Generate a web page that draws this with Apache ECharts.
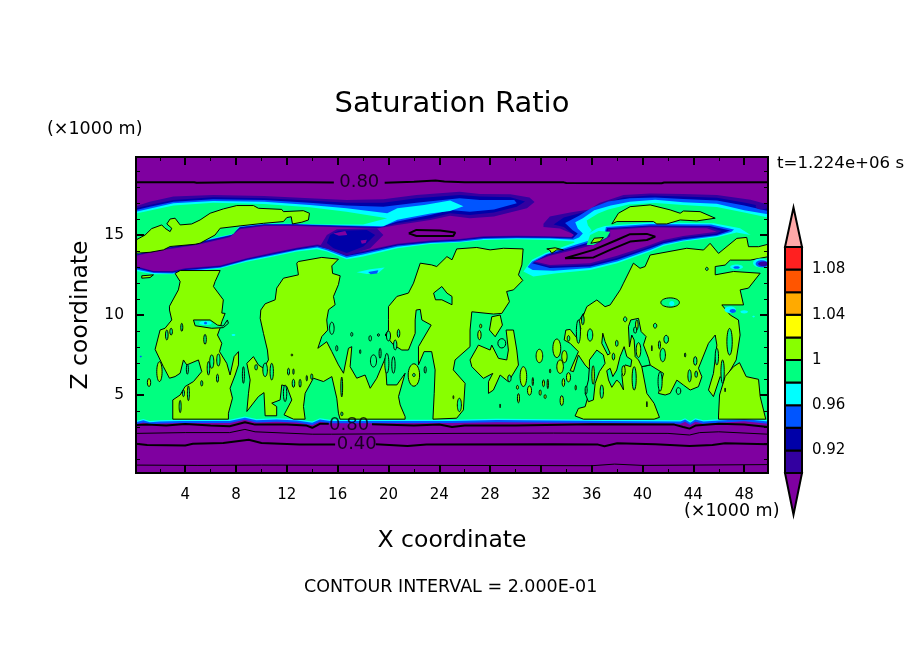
<!DOCTYPE html>
<html><head><meta charset="utf-8"><title>Saturation Ratio</title>
<style>html,body{margin:0;padding:0;background:#fff}#c{width:904px;height:654px}</style>
<script src="https://cdn.jsdelivr.net/npm/echarts@6/dist/echarts.min.js"></script></head>
<body><div id="c"></div>
<script>
// ---- tick values (km) and colour-bar levels
const xMajor=[4,8,12,16,20,24,28,32,36,40,44,48];
const xMinor=[2,6,10,14,18,22,26,30,34,38,42,46];
const zMajor=[5,10,15];
const zMinor=[1,2,3,4,6,7,8,9,11,12,13,14,16,17,18,19];
const barLevels=[0.90,0.92,0.94,0.96,0.98,1.00,1.02,1.04,1.06,1.08,1.10];
const barLabels=[0.92,0.96,1,1.04,1.08];
const shadeColors=['#7f00a0','#3300a0','#0000a8','#0055ff','#00ffff','#00ff80','#88ff00','#ffff00','#ffaa00','#ff5500','#ff2020','#ffa8a8'];
const PURPLE=0,INDIGO=1,NAVY=2,BLUE=3,CYAN=4,SPRING=5,LIME=6;

// ---- filled regions, [x km, z km]
const bodyFoot=[[49.875,3],[0.125,3]];
const bodyIndigo=[[.125,13.05],[1.5,12.75],[3,12.75],[4,12.92],[6.75,13.1],[8.85,13.55],[10.94,13.9],[12.8,14.2],[14.4,14.4],[15.15,14.3],[16.7,13.85],[18,14],[20.7,14.45],[23.3,14.65],[25.6,14.75],[27.5,14.92],[30.1,14.95],[32.7,14.92],[34.4,14.88],[34.7,15],[33.5,15.4],[32.2,15.5],[32.2,15.7],[32.7,16.15],[34.3,16.4],[35.8,16.6],[36.6,17],[38.5,17.5],[40.6,17.6],[43.2,17.56],[45.85,17.5],[48.5,17.2],[49.875,16.9]];
const bodyNavy=[[.125,13],[1.5,12.72],[3,12.7],[4,12.87],[6.75,13.05],[8.85,13.5],[10.94,13.85],[12.8,14.15],[14.4,14.35],[15.15,14.2],[16.7,13.75],[18,13.93],[20.7,14.4],[23.3,14.6],[25.6,14.7],[27.5,14.87],[30.1,14.9],[32.7,14.87],[34.4,14.83],[34.6,15],[33.8,15.5],[33,15.65],[33.8,16.1],[35.5,16.45],[36.7,16.9],[38.5,17.35],[40.6,17.47],[43.2,17.4],[45.85,17.33],[48.2,17],[49.875,16.7]];
const bodyBlue=[[.125,12.93],[1.5,12.67],[3,12.65],[4,12.82],[6.75,13],[8.85,13.45],[10.94,13.8],[12.8,14.1],[14.4,14.3],[15.15,14.15],[16.7,13.68],[18,13.87],[20.7,14.35],[23.3,14.55],[25.6,14.65],[27.5,14.82],[30.1,14.85],[32.7,14.83],[34.5,14.78],[34.9,15.1],[34.5,15.3],[33.9,15.75],[35,16.2],[36,16.7],[37.3,17.1],[39,17.3],[41,17.35],[43.2,17.25],[45.85,17.15],[48,16.85],[49.875,16.5]];
const bodyCyan=[[.125,12.85],[1.5,12.62],[3,12.6],[4,12.75],[6.75,12.95],[8.85,13.4],[10.94,13.73],[12.8,14.05],[14.4,14.22],[15.15,14.05],[16.7,13.58],[18,13.78],[20.7,14.27],[23.3,14.5],[25.6,14.58],[27.5,14.75],[30.1,14.8],[32.7,14.78],[34.56,14.7],[35,14.85],[35.3,15.1],[34.9,15.4],[34.7,15.8],[35.3,16.05],[36.2,16.55],[37.5,16.85],[39,17.08],[41,17.2],[43.2,17.05],[45.85,16.95],[48,16.55],[49.875,16.3]];
const bodySpring=[[.125,12.75],[1.5,12.55],[3,12.55],[4,12.7],[6.75,12.9],[8.85,13.33],[10.94,13.65],[12.8,13.97],[14.36,14.11],[15.15,13.97],[16.7,13.49],[18,13.66],[20.7,14.17],[23.3,14.44],[25.6,14.53],[27.5,14.69],[30.1,14.74],[32.7,14.69],[34.56,14.59],[35.35,14.38],[35.6,14.9],[36,15.3],[35.7,15.6],[35.6,15.9],[36.5,16.35],[37.3,16.6],[38.9,16.9],[41,17],[43.2,16.88],[45.85,16.75],[48,16.4],[49.875,16.1]];
const bulgeIndigo=[[14.6,14.28],[15.15,15],[15.93,15.36],[19.08,15.42],[19.6,15],[18.56,14.17],[16.72,13.7],[15.4,14.1]];
const bulgeNavy=[[15.15,14.5],[15.4,15],[16.06,15.27],[18.3,15.32],[18.95,15],[18.03,14.28],[16.72,13.87],[15.67,14.17]];
const bulgeSpotA=[[15.65,15.1],[16.6,15.25],[16.75,15],[16.1,14.95]];
const bulgeSpotB=[[17.8,14.65],[18.3,14.7],[18.2,14.5],[17.9,14.45]];
const upperIndigo=[[.125,16.8],[1.2,17.08],[3.07,17.4],[6.2,17.5],[10.2,17.44],[13.8,17.3],[16.7,17.19],[19.6,17.23],[22.2,17.5],[25.6,17.7],[27.2,17.56],[29.6,17.54],[31.1,17.35],[31.5,17.07],[30.9,16.67],[28.3,16.15],[26.4,16.05],[24.85,16.2],[23.3,15.94],[20.7,15.63],[19.1,15.4],[15.4,15.5],[12.8,15.57],[10.2,15.57],[8.3,15.36],[7.5,14.86],[4.9,14.38],[2.28,14.07],[.125,13.7]];
const upperNavy=[[.125,16.67],[1.2,16.88],[3.07,17.19],[6.2,17.36],[10.2,17.3],[13.8,17.15],[16.7,17.02],[19.6,17.02],[22.2,17.3],[25.6,17.5],[27.2,17.4],[29.6,17.36],[30.75,17.09],[30.1,16.77],[28.3,16.4],[26.4,16.25],[24.85,16.36],[23.3,16.05],[20.7,15.73],[19.2,15.45],[15.4,15.55],[12.8,15.62],[10.2,15.62],[8.3,15.42],[7.55,14.93],[4.9,14.44],[2.28,14.12],[.125,13.75]];
const upperBlue=[[.125,16.57],[1.2,16.77],[3.07,17.08],[6.2,17.23],[10.2,17.19],[13.8,17.02],[16.7,16.84],[19.6,16.77],[22.2,17.02],[25.6,17.3],[27.2,17.19],[29.9,17.19],[30.1,16.98],[28.3,16.6],[26.4,16.46],[24.85,16.57],[23.3,16.25],[20.7,15.84],[19.4,15.5],[15.4,15.6],[12.8,15.65],[10.2,15.66],[8.3,15.48],[7.6,14.98],[4.9,14.5],[2.28,14.16],[.125,13.78]];
const upperCyan=[[.125,16.46],[3.07,16.98],[6.2,17.13],[10.2,17.08],[13.8,16.88],[16.7,16.67],[19.9,16.36],[20.7,16.67],[22.8,16.88],[24.85,17.15],[25.9,16.8],[24.85,16.5],[23.3,16.35],[20.7,15.95],[19.6,15.55],[15.4,15.63],[12.8,15.68],[10.2,15.68],[8.3,15.52],[7.7,15.03],[4.9,14.54],[2.28,14.19],[.125,13.8]];
const upperSpring=[[.125,16.35],[3.07,16.84],[6.2,17.02],[10.2,16.94],[13.8,16.73],[16.7,16.46],[19.9,16.05],[18,15.65],[15.4,15.66],[12.8,15.7],[10.2,15.72],[8.3,15.6],[7.8,15.08],[4.9,14.59],[2.28,14.22],[.125,13.83]];
const tongueCyan=[[37.05,15.57],[40.6,15.78],[45.6,15.73],[47.68,15.42],[48.5,15],[47.4,15.15],[45.85,14.86],[43.2,14.59],[41.65,14.32],[40.6,13.97],[38,13.24],[35.87,12.82],[33.25,12.61],[31.4,12.4],[30.62,12.72],[31.3,13.45],[32.33,13.86],[34.56,14.5],[35.35,14.9],[36.4,15.4]];
const tongueBlue=[[37.12,15.5],[40.6,15.68],[45.4,15.65],[47.2,15.35],[47,15.2],[45.85,14.93],[43.2,14.66],[41.65,14.4],[40.6,14.07],[38,13.35],[35.87,12.93],[33,12.77],[31.35,12.82],[30.95,13],[31.3,13.35],[32.4,13.8],[34.63,14.38],[36.2,14.75],[37,15.1]];
const tongueNavy=[[37.2,15.42],[40.6,15.6],[45.3,15.57],[46.9,15.28],[45.85,15],[43.2,14.73],[41.65,14.48],[40.6,14.17],[38,13.45],[35.87,13.03],[32.7,12.93],[31.3,13.24],[32.46,13.76],[34.7,14.28],[36.27,14.65],[37.05,15]];
const tongueIndigo=[[37.3,15.38],[40.6,15.54],[45.2,15.5],[46.2,15.25],[45.85,15.1],[43.2,14.84],[41.65,14.58],[40.6,14.27],[38,13.57],[35.87,13.13],[32.7,13.03],[31.4,13.29],[32.58,13.73],[34.76,14.2],[36.33,14.55],[37.25,14.95]];
const tonguePurple=[[37.45,15.32],[40.6,15.48],[45.06,15.42],[45.85,15.2],[43.2,14.94],[41.65,14.69],[40.6,14.38],[38,13.7],[35.87,13.24],[32.7,13.13],[31.5,13.34],[32.7,13.7],[34.82,14.11],[36.4,14.44],[37.45,14.9]];
const pocketSpring=[[35.6,14.38],[35.87,15],[36.53,15.25],[37.45,15.2],[37.2,14.86],[36.14,14.38]];
const pocketCyan=[[17.5,12.67],[18.56,12.86],[19.7,12.97],[19.2,12.62],[18.3,12.57]];
const pocketBlue=[[18.4,12.68],[19.2,12.8],[19.1,12.6],[18.6,12.55]];
const floorCyan=[[.125,3.38],[.7,3.5],[1.2,3.38],[2,3.42],[3.6,3.46],[7.5,3.46],[8.7,3.66],[9.6,3.5],[11.2,3.55],[12.8,3.49],[14,3.34],[14.6,3.55],[15.4,3.45],[25,3.46],[28.5,3.52],[37,3.46],[43,3.42],[43.35,3.55],[43.75,3.34],[44.15,3.55],[44.8,3.42],[48,3.6],[49.875,3.42],[49.875,.125],[.125,.125]];
const floorBlue=[[.125,3.3],[.7,3.42],[1.2,3.3],[2,3.34],[3.6,3.38],[7.5,3.38],[8.7,3.58],[9.6,3.42],[11.2,3.47],[12.8,3.41],[14,3.26],[14.6,3.47],[15.4,3.37],[25,3.38],[28.5,3.44],[37,3.38],[43,3.34],[43.35,3.47],[43.75,3.26],[44.15,3.47],[44.8,3.34],[48,3.5],[49.875,3.34],[49.875,.125],[.125,.125]];
const floorPurple=[[.125,3.17],[.7,3.28],[1.2,3.17],[2,3.22],[3.6,3.25],[7.5,3.25],[8.7,3.45],[9.6,3.28],[11.2,3.33],[12.8,3.28],[14,3.12],[14.6,3.33],[15.4,3.24],[25,3.25],[28.5,3.3],[37,3.25],[43,3.2],[43.35,3.33],[43.75,3.12],[44.15,3.33],[44.8,3.2],[48,3.36],[49.875,3.2],[49.875,.125],[.125,.125]];

// ---- ratio-1.0 outlined regions
const limeUpperLeft=[[.125,14.69],[.84,15],[1.36,15.4],[2.15,15.63],[2.41,15.42],[2.81,15.21],[2.94,15.42],[2.55,15.69],[2.81,16],[3.2,16.05],[3.6,15.63],[4.51,15.69],[5.17,15.94],[5.96,16.36],[7,16.63],[8.06,16.84],[9.37,16.84],[9.76,16.67],[11.6,16.6],[11.73,16.46],[13.3,16.52],[13.78,16.36],[13.7,15.94],[13.18,15.8],[12.44,15.69],[12.34,16.14],[12,16.09],[11.73,15.84],[10.16,15.73],[8.32,15.57],[6.75,15.42],[6.35,15],[5.17,14.49],[4.78,14.42],[2.81,14.28],[2.28,14.07],[1.23,13.92],[.125,13.86]];
const limeUpperRight=[[37.58,15.69],[38.1,16.36],[39.02,16.77],[40.6,16.88],[42.17,16.57],[42.96,16.36],[43.22,16.5],[44.53,16.46],[45.72,16.05],[44.27,15.88],[42.96,15.94],[41.9,15.69],[41.12,15.69],[40.86,15.84],[37.97,15.84]];
const limePocket=[[35.93,14.48],[36.2,14.8],[36.92,14.84],[36.66,14.59]];
const limeA=[[3.2,12.6],[3.6,12.78],[6.75,12.78],[6.35,12.09],[6.22,11.78],[7,10.95],[6.88,10.12],[7.14,10.1],[6.88,9.58],[6.74,9.17],[6.54,8.75],[6.88,8.23],[6.7,7.71],[7.27,6.98],[7.53,6.25],[7.85,7.4],[8.19,7.71],[8.19,6.88],[7.93,6.25],[7.53,5.42],[7.72,4.8],[7.4,3.86],[7.4,3.49],[3.02,3.49],[3.02,4.69],[3.6,5],[3.99,5.53],[4.65,5.84],[5.3,6.46],[5.04,7.19],[4.12,6.88],[3.86,7.19],[3.6,6.36],[3.2,6.15],[2.76,6.05],[2.28,6.77],[1.63,7.85],[2.02,9.06],[2.41,9.17],[2.94,9.69],[2.76,10.31],[2.76,10.55],[3.46,11.57],[3.6,12.09]];
const limeB=[[12.9,13.34],[14.75,13.6],[16.06,13.49],[15.54,13.07],[15.6,12.6],[16.2,12.45],[16.06,11.9],[15.67,11.16],[15.8,10.64],[15.28,10.33],[15.14,9.69],[15.22,9.06],[14.75,8.65],[14.44,7.92],[15.14,8.33],[15.54,7.71],[16.06,6.88],[16.46,6.36],[16.85,7.92],[17.11,8.02],[16.98,6.77],[17.5,6.05],[18.16,6.25],[18.56,5.42],[19.08,6.05],[19.74,7.29],[19.87,5.63],[20.66,5.63],[21.31,6.36],[20.79,4.9],[20.92,4.38],[21.31,3.65],[21.31,3.49],[16.19,3.49],[16.06,3.86],[15.93,4.8],[15.54,6.15],[14.88,5.84],[14.09,6.05],[13.44,5.11],[13.31,4.28],[13.44,3.49],[12.52,3.49],[11.78,3.76],[12.39,4.69],[12,5.53],[11.6,5.63],[11.47,4.69],[10.81,4.49],[11.2,4.28],[11.2,3.7],[10.29,3.7],[10.2,5.15],[9.76,4.9],[8.85,3.97],[8.98,5.11],[9.11,5.94],[8.85,6.98],[9.37,7.4],[9.76,6.88],[10.16,6.67],[10.55,7.19],[10.47,7.81],[10.16,8.85],[9.9,9.79],[9.95,10.31],[10.29,10.7],[11.08,10.95],[11.2,11.68],[11.73,12.3],[12.91,12.51],[12.78,13.24]];
const limeC=[[20,9.7],[20,10.53],[20.66,11.16],[21.57,11.37],[21.97,11.99],[22.5,13.24],[23.4,13.13],[23.8,13.03],[24.6,13.65],[25,13.45],[25.37,14.13],[26.95,14.22],[28,14.07],[29.05,14.17],[30.6,14.13],[30.5,13.13],[30.23,12.51],[30.57,12.16],[29.84,11.57],[29.3,11.47],[29.52,10.83],[28.92,10.1],[28.27,10.06],[26.56,10.2],[26.42,9.06],[26.42,8.02],[25.24,7.19],[25.1,6.57],[26.03,5.73],[25.9,4.07],[25.37,3.55],[23.5,3.49],[23.6,5.11],[23.67,6.57],[23.4,7.71],[22.8,7.71],[22.36,6.88],[22.36,8.02],[22.9,8.75],[23.36,9.37],[22.63,9.69],[22.5,10.35],[22.18,10.31],[22.1,9.69],[22.1,8.85],[21.57,7.81],[21.05,7.81],[20.4,8.13],[19.74,8.75],[20,9.06]];
const limeD=[[26.42,7.19],[27.08,8.12],[28,7.81],[28.13,8.12],[28.66,7.29],[29.31,7.19],[29.44,7.81],[29.26,9.06],[29.84,9.06],[30.1,7.81],[30.23,6.87],[29.44,5.83],[28.79,6.25],[28.26,5.31],[27.87,5.1],[27.87,5.83],[28.21,6.35],[27.47,6.04],[26.56,6.77]];
const limeE=[[28.13,9.89],[28.79,10],[28.97,9.37],[28.4,8.64],[27.95,9.06]];
const limeF=[[35.61,10.52],[36.4,10.94],[37.05,10.52],[37.45,10.63],[38.24,11.57],[38.5,11.99],[39.28,13.24],[39.8,12.92],[40.2,13.03],[40.6,13.75],[43.48,14.17],[44.8,14.06],[45.32,14.48],[45.98,13.85],[47.42,14.79],[48.2,14.85],[48.34,14.27],[49.13,14.27],[49.875,14.42],[49.875,13.64],[48.47,13.43],[46.9,13.43],[46.5,13.12],[45.72,13.03],[45.72,12.51],[47.16,12.72],[49.26,12.61],[48.34,11.68],[47.68,11.57],[47.95,10.63],[46.24,10.63],[46.9,10],[47.55,9.69],[47.68,8.75],[47.37,7.19],[46.77,6.35],[46.63,5.73],[46.11,6.15],[45.58,4.9],[45.19,5.31],[45.58,6.35],[45.85,8.12],[45.72,8.75],[45.19,8.23],[44.4,6.67],[44.67,6.14],[44.4,5.52],[43.75,5.31],[43.22,5.62],[42.7,5.93],[42.17,5.1],[41.78,5],[41.25,5.1],[41.65,6.35],[40.6,6.87],[39.94,6.77],[40.34,5.1],[40.91,4.48],[41.33,3.6],[40.91,3.49],[35.35,3.49],[34.69,3.69],[34.95,4.16],[35.48,4.27],[35.74,5],[35.87,6.56],[35.48,6.87],[34.95,7.5],[34.56,6.46],[34.3,6.52],[34.95,7.71],[34.3,8.23],[33.83,8.44],[33.96,9.06],[34.3,9.1],[34.95,8.44],[35.14,9.17],[34.95,9.58],[35.35,10.1],[35.2,9.69]];
const limeG=[[45.98,3.69],[46.06,5],[46.5,6.15],[47.16,6.77],[47.63,7.02],[48.16,6.15],[49.13,5.98],[49.26,4.9],[49.7,3.49],[45.98,3.49]];
const limeH=[[.58,12.45],[1.5,12.51],[1.23,12.34],[.58,12.3]];
const limeI=[[32.46,14.13],[33.12,14.2],[33.77,14.07],[33.25,14.07],[32.85,13.86],[32.67,14.07]];
const holeA=[[23.55,11.37],[24.2,11.78],[24.6,11.37],[25,11.16],[25,10.64],[24.2,10.95],[23.7,10.95]];
const holeB=[[4.65,9.69],[5.96,9.69],[6.54,9.37],[7,9.31],[7.32,9.69],[7.4,9.48],[7,9.21],[6.09,9.17],[4.78,9.33]];
const fjordA=[[39.07,9.69],[39.68,9.79],[39.89,8.96],[40.28,8.65],[40.07,8.13],[40.47,7.3],[40.6,6.88],[39.94,6.77],[39.68,7.19],[39.42,7.4],[39.34,8.44],[39.15,8.75],[38.97,8],[38.89,9.27]];
const fjordB=[[35.82,7.19],[36.4,7.81],[36.92,7.5],[37.05,6.98],[36.6,6.46],[36.27,5.73],[36.13,4.69],[35.74,4.58],[35.48,5.1],[35.74,5.94],[35.82,6.77]];
const fjordC=[[37.18,6.52],[37.45,6.67],[37.66,6.15],[37.97,6.56],[38.23,7.4],[38.55,8.02],[38.76,7.4],[39.15,7.19],[39.07,6.77],[38.63,6.88],[38.37,6.25],[38.5,5.32],[38.23,5.73],[37.97,5.94],[37.58,5.48],[37.32,5.94]];
const fjordD=[[36.87,8.86],[37.05,8.34],[37.45,7.6],[37.26,7.5],[36.79,8.23]];

const regions=[
 [INDIGO,bodyIndigo.concat(bodyFoot),0],[NAVY,bodyNavy.concat(bodyFoot),0],[BLUE,bodyBlue.concat(bodyFoot),0],[CYAN,bodyCyan.concat(bodyFoot),0],[SPRING,bodySpring.concat(bodyFoot),0],
 [INDIGO,bulgeIndigo,0],[NAVY,bulgeNavy,0],[PURPLE,bulgeSpotA,0],[PURPLE,bulgeSpotB,0],
 [INDIGO,upperIndigo,0],[NAVY,upperNavy,0],[BLUE,upperBlue,0],[CYAN,upperCyan,0],[SPRING,upperSpring,0],
 [CYAN,tongueCyan,0],[BLUE,tongueBlue,0],[NAVY,tongueNavy,0],[INDIGO,tongueIndigo,0],[PURPLE,tonguePurple,0],[SPRING,pocketSpring,0],
 [CYAN,pocketCyan,0],[BLUE,pocketBlue,0],
 [CYAN,floorCyan,0],[BLUE,floorBlue,0],[PURPLE,floorPurple,0],
 [LIME,limeUpperLeft,1],[LIME,limeUpperRight,1],[LIME,limePocket,1],[LIME,limeA,1],[LIME,limeB,1],[LIME,limeC,1],[LIME,limeD,1],[LIME,limeE,1],[LIME,limeF,1],[LIME,limeG,1],[LIME,limeH,1],[LIME,limeI,1],
 [SPRING,holeA,1],[SPRING,holeB,1],[SPRING,fjordA,1],[SPRING,fjordB,1],[SPRING,fjordC,1],[SPRING,fjordD,1]
];

// ---- small closed cells: [x, z, half width, half height]
const limeCells=[[1.15,5.78,.13,.25],[1.97,6.46,.21,.62],[22,6.25,.45,.7],[12.4,7.5,.07,.06],[31.88,7.44,.26,.42],[30.62,6.15,.26,.62],[31.1,5.28,.16,.29],[30.23,4.8,.08,.29],[30.15,5.48,.08,.12],[31.36,5.84,.05,.25],[31.94,5.15,.08,.17],[32.33,4.9,.08,.12],[32.2,5.73,.08,.21],[32.54,5.69,.05,.29],[33.64,4.65,.13,.31],[33.77,5.78,.1,.25],[32.72,6.5,.05,.12],[33.25,7.92,.31,.58],[33.51,6.77,.26,.42],[34.17,6.11,.16,.29],[34.74,5.46,.05,.15],[33.85,7.4,.21,.38],[27.16,8.75,.13,.29],[27.26,9.31,.08,.12],[28.79,4.32,.03,.12],[25.11,4.86,.03,.1],[39.55,9.38,.1,.31],[39.68,7.81,.18,.46],[36.11,6.25,.1,.58],[38.5,6.52,.13,.31]];
const springCells=[[2.55,8.75,.1,.31],[2.89,8.96,.1,.21],[3.73,9.23,.08,.25],[5.56,8.48,.1,.31],[4.17,6.61,.08,.31],[6.54,6.05,.08,.25],[6.09,7.09,.16,.42],[6.61,7.19,.13,.38],[5.83,6.67,.1,.42],[5.3,5.73,.08,.17],[4.25,5.11,.08,.46],[3.86,5.11,.08,.21],[3.6,4.28,.08,.38],[8.58,6.25,.08,.52],[9.58,6.73,.1,.17],[10.29,6.57,.18,.42],[10.81,6.46,.13,.52],[12.52,5.73,.1,.25],[13.04,5.73,.08,.25],[11.86,5.11,.13,.52],[12.13,6.46,.08,.21],[12.52,6.46,.05,.17],[13.57,6.05,.05,.17],[13.96,6.15,.08,.17],[15.54,9.17,.18,.38],[15.93,7.92,.08,.17],[17.11,8.79,.08,.12],[18.56,8.54,.1,.17],[19.21,8.75,.08,.08],[17.77,7.71,.05,.12],[16.32,5.5,.07,.62],[16.33,3.82,.08,.12],[18.82,7.13,.24,.38],[20.39,6.88,.13,.52],[19.87,6.98,.16,.62],[19.34,7.61,.08,.31],[20.79,8.85,.1,.25],[20,8.69,.16,.31],[20.53,8.13,.13,.31],[22.89,6.57,.08,.21],[22,6.25,.1,.1],[25.58,4.38,.16,.42],[28.92,8.23,.31,.29],[29.52,6.04,.13,.21],[35.87,8.75,.21,.38],[35.3,9.69,.1,.3],[34.95,8.96,.16,.73],[34.17,8.54,.1,.17],[37.97,8.23,.1,.19],[38.63,9.73,.13,.15],[37.71,7.4,.1,.21],[36.79,5.21,.13,.42],[35.56,5.31,.08,.25],[39.34,6.04,.16,.73],[39.42,9.06,.12,.2],[41.38,5.84,.16,.6],[40.73,7.92,.03,.17],[41.33,8.13,.08,.25],[41.86,8.48,.18,.25],[41.59,7.5,.21,.42],[40.99,9.33,.13,.15],[43.35,7.5,.05,.13],[44.15,7.13,.13,.27],[43.7,6.2,.13,.38],[44.22,6.3,.1,.2],[42.83,5.25,.18,.21],[46.85,8.33,.21,.83],[45.85,7.4,.13,.52],[46.3,6.46,.13,.73],[46.5,5.32,.03,.12],[40.34,4.42,.03,.17],[42.17,10.78,.73,.29],[45.06,12.88,.1,.1]];
const cyanPatches=[[42.3,10.72,.2,.15],[47.4,13,.5,.15],[49.3,13.25,.6,.28],[46.9,10.33,.45,.2],[48,10.2,.3,.1],[48.74,9.9,.1,.05],[5.6,9.5,.5,.13],[7.8,8.75,.15,.06]];
const bluePatches=[[47.4,12.97,.25,.08],[49.4,13.2,.5,.22],[47.1,10.25,.25,.12],[5.6,9.5,.12,.08],[.5,7.4,.08,.05]];
const indigoPatches=[[49.5,13.2,.4,.15],[49.4,16.8,.5,.2]];

// ---- contour lines (null = gap for a label)
const line080Top=[[.125,18.3],[4.7,18.3],[4.9,18.27],[8,18.3],[13.5,18.3],[15.7,18.28],null,[19.7,18.27],[22,18.33],[23.7,18.4],[24.4,18.35],[26,18.3],[33.8,18.29],[34,18.25],[41.5,18.23],[41.7,18.28],[49.875,18.3]];
const line080Low=[[.125,3.12],[1,3.15],[2.5,3.1],[4,3.18],[6,3.1],[7.5,3.05],[8.7,3.3],[9.5,3.15],[12,3.15],[13.5,3.1],[14,2.95],[14.6,3.2],[15.3,3.2],null,[18.7,3.17],[22,3.1],[24,3.15],[25,3],[26,3.1],[30,3.1],[36,3.17],[42.5,3.15],[43.2,3],[43.7,2.9],[44.2,3.1],[46,3.2],[48,3.15],[49.875,3]];
const line060=[[.125,2.6],[4,2.65],[7.5,2.65],[8.7,2.85],[9.5,2.7],[14,2.55],[15.5,2.55],[25,2.6],[33,2.62],[42,2.6],[43.7,2.5],[44.5,2.65],[46,2.7],[49.875,2.55]];
const line040=[[.125,1.95],[1,1.87],[4,1.85],[4.6,1.95],[7,2],[9,2.2],[10,2],[13,1.9],[15.8,1.9],null,[19,1.92],[21.5,1.82],[23,1.9],[33,1.92],[36.5,1.9],[37,1.8],[38,1.98],[41,1.92],[43.7,1.82],[45.5,1.88],[46.5,1.98],[49.875,1.92]];
const line020=[[.125,.62],[5,.6],[10,.62],[25,.6],[36,.58],[37.8,.68],[40,.6],[49.875,.65]];
const ring080A=[[33.9,13.55],[36.14,14.07],[37.97,14.69],[39.02,15.05],[40.34,15.07],[41,14.9],[40.34,14.69],[39.02,14.59],[37.45,14.07],[36.14,13.6],[33.9,13.55]];
const ring080B=[[21.6,15.1],[22.2,15.32],[24.07,15.28],[25.25,15.15],[25.1,14.94],[23.3,14.94],[22.2,14.94],[21.6,15.1]];
const contourLabels=[[17.7,18.27,'0.80'],[16.9,3.13,'0.80'],[17.5,1.93,'0.40']];

const FONT='DejaVu Sans';
function polyRender(p,api){
  const r=regions[p.dataIndex];
  return {type:'polygon',shape:{points:r[1].map(q=>api.coord(q))},
    style:{fill:shadeColors[r[0]],stroke:r[2]?'#000':null,lineWidth:r[2]}};
}
function cellRender(list,color,stroke){
  return function(p,api){
    const c=list[p.dataIndex],a=api.coord([c[0],c[1]]),s=api.size([c[2],c[3]]);
    return {type:'ellipse',shape:{cx:a[0],cy:a[1],rx:s[0],ry:s[1]},
      style:{fill:color,stroke:stroke?'#000':null,lineWidth:stroke}};
  };
}
function cellSeries(list,color,stroke,z){
  return {type:'custom',z,coordinateSystem:'cartesian2d',xAxisIndex:0,yAxisIndex:0,clip:true,silent:true,
    data:list.map(c=>[c[0],c[1]]),renderItem:cellRender(list,color,stroke)};
}
function lineSeries(data,w){
  return {type:'line',z:6,xAxisIndex:0,yAxisIndex:0,data,symbol:'none',silent:true,connectNulls:false,
    lineStyle:{color:'#000',width:w},animation:false};
}
const barSegs=[];
for(let i=0;i<barLevels.length-1;i++)barSegs.push([barLevels[i],barLevels[i+1],i+1]);
function xA(pos,vals,len,w,label){
  return {type:'value',gridIndex:0,position:pos,min:.125,max:49.875,z:10,
    axisLine:{show:true,onZero:false,lineStyle:{color:'#000',width:2}},splitLine:{show:false},
    axisTick:{show:true,inside:true,length:len,customValues:vals,lineStyle:{color:'#000',width:w}},
    axisLabel:label?{show:true,customValues:vals,margin:15,color:'#000',fontFamily:FONT,fontSize:15}:{show:false}};
}
function yA(pos,vals,len,w,label){
  return {type:'value',gridIndex:0,position:pos,min:.125,max:19.875,z:10,
    axisLine:{show:true,onZero:false,lineStyle:{color:'#000',width:2}},splitLine:{show:false},
    axisTick:{show:true,inside:true,length:len,customValues:vals,lineStyle:{color:'#000',width:w}},
    axisLabel:label?{show:true,customValues:vals,margin:12,color:'#000',fontFamily:FONT,fontSize:15.5}:{show:false}};
}
const xAxes=[xA('bottom',xMajor,8,2,true),xA('top',xMajor,8,2,false),xA('bottom',xMinor,4,1,false),xA('top',xMinor,4,1,false),
  {type:'value',gridIndex:1,min:0,max:1,show:false}];
const yAxes=[yA('left',zMajor,8,2,true),yA('right',zMajor,8,2,false),yA('left',zMinor,4,1,false),yA('right',zMinor,4,1,false),
  {type:'value',gridIndex:1,position:'right',min:.9,max:1.1,axisLine:{show:false},axisTick:{show:false},splitLine:{show:false},
   axisLabel:{customValues:barLabels,margin:10,color:'#000',fontFamily:FONT,fontSize:15,formatter:v=>String(+v.toFixed(2))}}];
xAxes[0].name='X coordinate';xAxes[0].nameLocation='middle';xAxes[0].nameGap=56;
xAxes[0].nameTextStyle={color:'#000',fontFamily:FONT,fontSize:23.5};
yAxes[0].name='Z coordinate';yAxes[0].nameLocation='middle';yAxes[0].nameGap=41;
yAxes[0].nameTextStyle={color:'#000',fontFamily:FONT,fontSize:23.5};
const tipLow=[[0,.9],[1,.9],[.5,.863]];
const tipHigh=[[0,1.1],[1,1.1],[.5,1.135]];
const chart=echarts.init(document.getElementById('c'),null,{renderer:'canvas'});
chart.setOption({
  animation:false,backgroundColor:'#fff',
  title:{text:'Saturation Ratio',left:'center',top:85,itemGap:0,textStyle:{color:'#000',fontFamily:FONT,fontWeight:'normal',fontSize:29}},
  grid:[{left:136,top:157,width:632,height:316,show:true,backgroundColor:shadeColors[PURPLE],borderColor:'#000',borderWidth:2},
        {left:785,top:247,width:17,height:226,show:false}],
  xAxis:xAxes,yAxis:yAxes,
  graphic:[
    {type:'text',left:47,top:120,style:{text:'(\u00d71000 m)',fill:'#000',font:'17.5px "DejaVu Sans"'}},
    {type:'text',left:684,top:502,style:{text:'(\u00d71000 m)',fill:'#000',font:'17.5px "DejaVu Sans"'}},
    {type:'text',left:777,top:155,style:{text:'t=1.224e+06 s',fill:'#000',font:'16.6px "DejaVu Sans"'}},
    {type:'text',left:304,top:578,style:{text:'CONTOUR INTERVAL = 2.000E-01',fill:'#000',font:'17.5px "DejaVu Sans"'}}
  ],
  series:[
    {type:'custom',z:2,coordinateSystem:'cartesian2d',xAxisIndex:0,yAxisIndex:0,clip:true,silent:true,
     data:regions.map(r=>r[1][0]),renderItem:polyRender},
    cellSeries(limeCells,shadeColors[LIME],1,3),
    cellSeries(springCells,shadeColors[SPRING],1,4),
    cellSeries(cyanPatches,shadeColors[CYAN],0,5),
    cellSeries(bluePatches,shadeColors[BLUE],0,5),
    cellSeries(indigoPatches,shadeColors[INDIGO],0,5),
    lineSeries(line080Top,2),lineSeries(line080Low,2),lineSeries(line060,1),lineSeries(line040,2),lineSeries(line020,1),
    lineSeries(ring080A,2),lineSeries(ring080B,2),
    {type:'scatter',z:7,xAxisIndex:0,yAxisIndex:0,symbolSize:0,silent:true,data:contourLabels,
     label:{show:true,position:'inside',formatter:p=>p.value[2],color:'#000',fontFamily:FONT,fontSize:18}},
    {type:'custom',z:3,xAxisIndex:4,yAxisIndex:4,coordinateSystem:'cartesian2d',clip:false,silent:true,
     data:barSegs.map(s=>[0,s[0]]),
     renderItem:function(p,api){const s=barSegs[p.dataIndex];
       return {type:'polygon',shape:{points:[[0,s[0]],[1,s[0]],[1,s[1]],[0,s[1]]].map(q=>api.coord(q))},
         style:{fill:shadeColors[s[2]],stroke:'#000',lineWidth:2}};}},
    {type:'custom',z:3,xAxisIndex:4,yAxisIndex:4,coordinateSystem:'cartesian2d',clip:false,silent:true,
     data:[[0,.9],[0,1.1]],
     renderItem:function(p,api){const t=p.dataIndex?tipHigh:tipLow;
       return {type:'polygon',shape:{points:t.map(q=>api.coord(q))},
         style:{fill:shadeColors[p.dataIndex?11:0],stroke:'#000',lineWidth:2}};}}
  ]
});
</script></body></html>
